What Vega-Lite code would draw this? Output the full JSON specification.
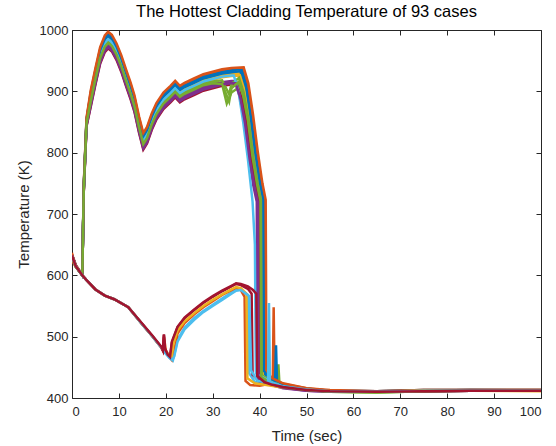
{
"$schema": "https://vega.github.io/schema/vega-lite/v6.json",
"width": 469, "height": 368,
"autosize": {"type": "none"},
"padding": {"left": 72, "top": 30, "right": 15, "bottom": 48},
"background": "white",
"title": {"text": "The Hottest Cladding Temperature of 93 cases", "fontSize": 16.5, "fontWeight": "normal", "font": "Liberation Sans", "color": "#000000", "offset": 4},
"config": {"view": {"stroke": null}, "axis": {"grid": false, "domainColor": "#262626", "tickColor": "#262626", "labelColor": "#262626", "titleColor": "#262626", "labelFont": "Liberation Sans", "titleFont": "Liberation Sans", "labelFontSize": 13, "titleFontSize": 15, "titleFontWeight": "normal", "tickSize": -5, "domainWidth": 1}},
"data": {"values": [
{"c":1,"t":0,"v":633},{"c":1,"t":0.8,"v":616},{"c":1,"t":2.2,"v":600},{"c":1,"t":2.5,"v":742},{"c":1,"t":3.1,"v":852},{"c":1,"t":4,"v":893},{"c":1,"t":5,"v":929},{"c":1,"t":6,"v":963},{"c":1,"t":7,"v":982},{"c":1,"t":7.7,"v":988},{"c":1,"t":8.5,"v":983},{"c":1,"t":9.5,"v":969},{"c":1,"t":10.5,"v":950},{"c":1,"t":11.5,"v":927},{"c":1,"t":12.5,"v":905},{"c":1,"t":13.3,"v":885},{"c":1,"t":14.3,"v":850},{"c":1,"t":15.2,"v":823},{"c":1,"t":16,"v":833},{"c":1,"t":17,"v":855},{"c":1,"t":18,"v":872},{"c":1,"t":19.5,"v":889},{"c":1,"t":21,"v":900},{"c":1,"t":22,"v":908},{"c":1,"t":23,"v":900},{"c":1,"t":24,"v":905},{"c":1,"t":26,"v":912},{"c":1,"t":28,"v":919},{"c":1,"t":30,"v":923},{"c":1,"t":32,"v":927},{"c":1,"t":34,"v":929},{"c":1,"t":35.7,"v":930},{"c":1,"t":36.7,"v":905},{"c":1,"t":37.7,"v":857},{"c":1,"t":38.7,"v":797},{"c":1,"t":39.7,"v":748},{"c":1,"t":40.4,"v":722},{"c":1,"t":40.55,"v":440},{"c":1,"t":42.5,"v":428},{"c":1,"t":45,"v":420},{"c":1,"t":50,"v":414},{"c":1,"t":55,"v":411},{"c":1,"t":65,"v":410},{"c":1,"t":75,"v":412},{"c":1,"t":85,"v":412},{"c":1,"t":100,"v":412},
{"c":2,"t":0,"v":634},{"c":2,"t":0.8,"v":616},{"c":2,"t":2.2,"v":600},{"c":2,"t":2.5,"v":745},{"c":2,"t":3.1,"v":855},{"c":2,"t":4,"v":899},{"c":2,"t":5,"v":935},{"c":2,"t":6,"v":969},{"c":2,"t":7,"v":988},{"c":2,"t":7.7,"v":994},{"c":2,"t":8.5,"v":989},{"c":2,"t":9.5,"v":975},{"c":2,"t":10.5,"v":956},{"c":2,"t":11.5,"v":933},{"c":2,"t":12.5,"v":911},{"c":2,"t":13.3,"v":891},{"c":2,"t":14.3,"v":856},{"c":2,"t":15.2,"v":829},{"c":2,"t":16,"v":839},{"c":2,"t":17,"v":861},{"c":2,"t":18,"v":878},{"c":2,"t":19.5,"v":895},{"c":2,"t":21,"v":906},{"c":2,"t":22,"v":914},{"c":2,"t":23,"v":906},{"c":2,"t":24,"v":911},{"c":2,"t":26,"v":918},{"c":2,"t":28,"v":925},{"c":2,"t":30,"v":929},{"c":2,"t":32,"v":933},{"c":2,"t":34,"v":935},{"c":2,"t":36.3,"v":936},{"c":2,"t":37.3,"v":911},{"c":2,"t":38.3,"v":860},{"c":2,"t":39.3,"v":800},{"c":2,"t":40.3,"v":748},{"c":2,"t":41,"v":722},{"c":2,"t":41.15,"v":445},{"c":2,"t":42.5,"v":432},{"c":2,"t":45,"v":423},{"c":2,"t":50,"v":416},{"c":2,"t":55,"v":412},{"c":2,"t":65,"v":411},{"c":2,"t":75,"v":413},{"c":2,"t":85,"v":413},{"c":2,"t":100,"v":413},
{"c":3,"t":0,"v":631},{"c":3,"t":0.8,"v":615},{"c":3,"t":2.2,"v":600},{"c":3,"t":2.5,"v":738},{"c":3,"t":3.1,"v":851},{"c":3,"t":4,"v":892},{"c":3,"t":5,"v":928},{"c":3,"t":6,"v":962},{"c":3,"t":7,"v":981},{"c":3,"t":7.7,"v":987},{"c":3,"t":8.5,"v":982},{"c":3,"t":9.5,"v":968},{"c":3,"t":10.5,"v":949},{"c":3,"t":11.5,"v":926},{"c":3,"t":12.5,"v":904},{"c":3,"t":13.3,"v":884},{"c":3,"t":14.3,"v":849},{"c":3,"t":15.2,"v":822},{"c":3,"t":16,"v":832},{"c":3,"t":17,"v":854},{"c":3,"t":18,"v":871},{"c":3,"t":19.5,"v":888},{"c":3,"t":21,"v":899},{"c":3,"t":22,"v":907},{"c":3,"t":23,"v":899},{"c":3,"t":24,"v":904},{"c":3,"t":26,"v":911},{"c":3,"t":28,"v":918},{"c":3,"t":30,"v":922},{"c":3,"t":32,"v":926},{"c":3,"t":34,"v":928},{"c":3,"t":35.5,"v":929},{"c":3,"t":36.5,"v":903},{"c":3,"t":37.5,"v":857},{"c":3,"t":38.5,"v":797},{"c":3,"t":39.5,"v":748},{"c":3,"t":40.2,"v":722},{"c":3,"t":40.35,"v":438},{"c":3,"t":42.5,"v":426},{"c":3,"t":45,"v":419},{"c":3,"t":50,"v":414},{"c":3,"t":55,"v":411},{"c":3,"t":65,"v":410},{"c":3,"t":75,"v":412},{"c":3,"t":85,"v":412},{"c":3,"t":100,"v":411},
{"c":4,"t":0,"v":632},{"c":4,"t":0.8,"v":615},{"c":4,"t":2.2,"v":600},{"c":4,"t":2.5,"v":736},{"c":4,"t":3.1,"v":846},{"c":4,"t":4,"v":879},{"c":4,"t":5,"v":915},{"c":4,"t":6,"v":949},{"c":4,"t":7,"v":968},{"c":4,"t":7.7,"v":974},{"c":4,"t":8.5,"v":969},{"c":4,"t":9.5,"v":955},{"c":4,"t":10.5,"v":936},{"c":4,"t":11.5,"v":913},{"c":4,"t":12.5,"v":891},{"c":4,"t":13.3,"v":871},{"c":4,"t":14.3,"v":836},{"c":4,"t":15.2,"v":809},{"c":4,"t":16,"v":819},{"c":4,"t":17,"v":841},{"c":4,"t":18,"v":858},{"c":4,"t":19.5,"v":875},{"c":4,"t":21,"v":886},{"c":4,"t":22,"v":894},{"c":4,"t":23,"v":886},{"c":4,"t":24,"v":891},{"c":4,"t":26,"v":898},{"c":4,"t":28,"v":905},{"c":4,"t":30,"v":909},{"c":4,"t":32,"v":913},{"c":4,"t":34,"v":915},{"c":4,"t":35,"v":916},{"c":4,"t":36,"v":892},{"c":4,"t":37,"v":851},{"c":4,"t":38,"v":791},{"c":4,"t":39,"v":748},{"c":4,"t":39.7,"v":722},{"c":4,"t":39.85,"v":435},{"c":4,"t":42.5,"v":424},{"c":4,"t":45,"v":418},{"c":4,"t":50,"v":413},{"c":4,"t":55,"v":411},{"c":4,"t":65,"v":410},{"c":4,"t":75,"v":411},{"c":4,"t":85,"v":412},{"c":4,"t":100,"v":412},
{"c":5,"t":0,"v":630},{"c":5,"t":0.8,"v":614},{"c":5,"t":2.2,"v":600},{"c":5,"t":2.5,"v":740},{"c":5,"t":3.1,"v":849},{"c":5,"t":4,"v":886},{"c":5,"t":5,"v":922},{"c":5,"t":6,"v":956},{"c":5,"t":7,"v":975},{"c":5,"t":7.7,"v":981},{"c":5,"t":8.5,"v":976},{"c":5,"t":9.5,"v":962},{"c":5,"t":10.5,"v":943},{"c":5,"t":11.5,"v":920},{"c":5,"t":12.5,"v":898},{"c":5,"t":13.3,"v":878},{"c":5,"t":14.3,"v":843},{"c":5,"t":15.2,"v":816},{"c":5,"t":16,"v":826},{"c":5,"t":17,"v":848},{"c":5,"t":18,"v":865},{"c":5,"t":19.5,"v":882},{"c":5,"t":21,"v":893},{"c":5,"t":22,"v":901},{"c":5,"t":23,"v":893},{"c":5,"t":24,"v":898},{"c":5,"t":26,"v":905},{"c":5,"t":28,"v":912},{"c":5,"t":30,"v":914},{"c":5,"t":32,"v":912},{"c":5,"t":33,"v":880},{"c":5,"t":34,"v":898},{"c":5,"t":35.3,"v":905},{"c":5,"t":36.3,"v":890},{"c":5,"t":37.3,"v":854},{"c":5,"t":38.3,"v":794},{"c":5,"t":39.3,"v":748},{"c":5,"t":40,"v":722},{"c":5,"t":40.15,"v":432},{"c":5,"t":42.5,"v":425},{"c":5,"t":45,"v":420},{"c":5,"t":50,"v":414},{"c":5,"t":55,"v":410},{"c":5,"t":65,"v":409},{"c":5,"t":75,"v":411},{"c":5,"t":85,"v":412},{"c":5,"t":100,"v":412},
{"c":6,"t":0,"v":631},{"c":6,"t":0.8,"v":615},{"c":6,"t":2.2,"v":600},{"c":6,"t":3,"v":593},{"c":6,"t":5,"v":577},{"c":6,"t":7,"v":567},{"c":6,"t":9,"v":561},{"c":6,"t":12,"v":548},{"c":6,"t":15,"v":520},{"c":6,"t":17,"v":502},{"c":6,"t":19,"v":483},{"c":6,"t":20,"v":472},{"c":6,"t":20.8,"v":465},{"c":6,"t":21.5,"v":461},{"c":6,"t":21.8,"v":470},{"c":6,"t":22.5,"v":495},{"c":6,"t":24,"v":515},{"c":6,"t":26,"v":530},{"c":6,"t":28,"v":542},{"c":6,"t":30,"v":552},{"c":6,"t":32,"v":562},{"c":6,"t":34,"v":572},{"c":6,"t":35,"v":577},{"c":6,"t":36,"v":577},{"c":6,"t":37.5,"v":568},{"c":6,"t":37.8,"v":440},{"c":6,"t":39,"v":426},{"c":6,"t":42.5,"v":421},{"c":6,"t":45,"v":418},{"c":6,"t":50,"v":413},{"c":6,"t":55,"v":411},{"c":6,"t":65,"v":410},{"c":6,"t":75,"v":412},{"c":6,"t":85,"v":412},{"c":6,"t":100,"v":412},
{"c":7,"t":0,"v":632},{"c":7,"t":0.8,"v":615},{"c":7,"t":2.2,"v":600},{"c":7,"t":2.5,"v":735},{"c":7,"t":3.1,"v":843},{"c":7,"t":4,"v":875},{"c":7,"t":5,"v":911},{"c":7,"t":6,"v":945},{"c":7,"t":7,"v":964},{"c":7,"t":7.7,"v":970},{"c":7,"t":8.5,"v":965},{"c":7,"t":9.5,"v":951},{"c":7,"t":10.5,"v":932},{"c":7,"t":11.5,"v":909},{"c":7,"t":12.5,"v":887},{"c":7,"t":13.3,"v":867},{"c":7,"t":14.3,"v":832},{"c":7,"t":15.2,"v":805},{"c":7,"t":16,"v":815},{"c":7,"t":17,"v":837},{"c":7,"t":18,"v":854},{"c":7,"t":19.5,"v":871},{"c":7,"t":21,"v":882},{"c":7,"t":22,"v":890},{"c":7,"t":23,"v":882},{"c":7,"t":24,"v":887},{"c":7,"t":26,"v":894},{"c":7,"t":28,"v":901},{"c":7,"t":30,"v":905},{"c":7,"t":32,"v":909},{"c":7,"t":34,"v":911},{"c":7,"t":35.2,"v":912},{"c":7,"t":36.2,"v":888},{"c":7,"t":37.2,"v":849},{"c":7,"t":38.2,"v":789},{"c":7,"t":39.2,"v":746},{"c":7,"t":39.9,"v":720},{"c":7,"t":40.05,"v":430},{"c":7,"t":42.5,"v":422},{"c":7,"t":45,"v":417},{"c":7,"t":50,"v":413},{"c":7,"t":55,"v":411},{"c":7,"t":65,"v":410},{"c":7,"t":75,"v":412},{"c":7,"t":85,"v":412},{"c":7,"t":100,"v":412},
{"c":8,"t":0,"v":633},{"c":8,"t":0.8,"v":616},{"c":8,"t":2.2,"v":600},{"c":8,"t":2.5,"v":741},{"c":8,"t":3.1,"v":853},{"c":8,"t":4,"v":895},{"c":8,"t":5,"v":931},{"c":8,"t":6,"v":965},{"c":8,"t":7,"v":984},{"c":8,"t":7.7,"v":990},{"c":8,"t":8.5,"v":985},{"c":8,"t":9.5,"v":971},{"c":8,"t":10.5,"v":952},{"c":8,"t":11.5,"v":929},{"c":8,"t":12.5,"v":907},{"c":8,"t":13.3,"v":887},{"c":8,"t":14.3,"v":852},{"c":8,"t":15.2,"v":825},{"c":8,"t":16,"v":835},{"c":8,"t":17,"v":857},{"c":8,"t":18,"v":874},{"c":8,"t":19.5,"v":891},{"c":8,"t":21,"v":902},{"c":8,"t":22,"v":910},{"c":8,"t":23,"v":902},{"c":8,"t":24,"v":907},{"c":8,"t":26,"v":914},{"c":8,"t":28,"v":921},{"c":8,"t":30,"v":925},{"c":8,"t":32,"v":929},{"c":8,"t":34,"v":931},{"c":8,"t":36,"v":933},{"c":8,"t":37,"v":908},{"c":8,"t":38,"v":858},{"c":8,"t":39,"v":798},{"c":8,"t":40,"v":750},{"c":8,"t":40.7,"v":724},{"c":8,"t":40.85,"v":442},{"c":8,"t":42.5,"v":430},{"c":8,"t":45,"v":421},{"c":8,"t":50,"v":415},{"c":8,"t":55,"v":412},{"c":8,"t":65,"v":411},{"c":8,"t":75,"v":412},{"c":8,"t":85,"v":413},{"c":8,"t":100,"v":412},
{"c":9,"t":0,"v":637},{"c":9,"t":0.3,"v":620},{"c":9,"t":0.8,"v":614},{"c":9,"t":2.2,"v":600},{"c":9,"t":3,"v":593},{"c":9,"t":5,"v":577},{"c":9,"t":7,"v":567},{"c":9,"t":9,"v":561},{"c":9,"t":12,"v":548},{"c":9,"t":15,"v":520},{"c":9,"t":17,"v":502},{"c":9,"t":19,"v":483},{"c":9,"t":19.4,"v":477},{"c":9,"t":19.6,"v":500},{"c":9,"t":20,"v":478},{"c":9,"t":20.8,"v":467},{"c":9,"t":21.3,"v":462},{"c":9,"t":21.7,"v":472},{"c":9,"t":22.5,"v":505},{"c":9,"t":24,"v":522},{"c":9,"t":26,"v":536},{"c":9,"t":28,"v":548},{"c":9,"t":30,"v":558},{"c":9,"t":32,"v":568},{"c":9,"t":34,"v":576},{"c":9,"t":35,"v":580},{"c":9,"t":36,"v":576},{"c":9,"t":36.8,"v":565},{"c":9,"t":37,"v":428},{"c":9,"t":38,"v":421},{"c":9,"t":40,"v":420},{"c":9,"t":42.8,"v":424},{"c":9,"t":43,"v":548},{"c":9,"t":43.2,"v":424},{"c":9,"t":45,"v":419},{"c":9,"t":50,"v":414},{"c":9,"t":55,"v":411},{"c":9,"t":65,"v":410},{"c":9,"t":75,"v":412},{"c":9,"t":85,"v":413},{"c":9,"t":100,"v":413},
{"c":10,"t":0,"v":631},{"c":10,"t":0.8,"v":615},{"c":10,"t":2.2,"v":600},{"c":10,"t":2.5,"v":739},{"c":10,"t":3.1,"v":850},{"c":10,"t":4,"v":889},{"c":10,"t":5,"v":925},{"c":10,"t":6,"v":959},{"c":10,"t":7,"v":978},{"c":10,"t":7.7,"v":984},{"c":10,"t":8.5,"v":979},{"c":10,"t":9.5,"v":965},{"c":10,"t":10.5,"v":946},{"c":10,"t":11.5,"v":923},{"c":10,"t":12.5,"v":901},{"c":10,"t":13.3,"v":881},{"c":10,"t":14.3,"v":846},{"c":10,"t":15.2,"v":819},{"c":10,"t":16,"v":829},{"c":10,"t":17,"v":851},{"c":10,"t":18,"v":868},{"c":10,"t":19.5,"v":885},{"c":10,"t":21,"v":896},{"c":10,"t":22,"v":904},{"c":10,"t":23,"v":896},{"c":10,"t":24,"v":901},{"c":10,"t":26,"v":908},{"c":10,"t":28,"v":915},{"c":10,"t":30,"v":919},{"c":10,"t":32,"v":923},{"c":10,"t":34,"v":925},{"c":10,"t":35.8,"v":926},{"c":10,"t":36.8,"v":901},{"c":10,"t":37.8,"v":855},{"c":10,"t":38.8,"v":795},{"c":10,"t":39.8,"v":748},{"c":10,"t":40.5,"v":721},{"c":10,"t":40.65,"v":436},{"c":10,"t":42.5,"v":427},{"c":10,"t":45,"v":421},{"c":10,"t":50,"v":415},{"c":10,"t":55,"v":411},{"c":10,"t":65,"v":410},{"c":10,"t":75,"v":412},{"c":10,"t":85,"v":412},{"c":10,"t":100,"v":412},
{"c":11,"t":0,"v":632},{"c":11,"t":0.8,"v":615},{"c":11,"t":2.2,"v":600},{"c":11,"t":2.5,"v":737},{"c":11,"t":3.1,"v":847},{"c":11,"t":4,"v":881},{"c":11,"t":5,"v":917},{"c":11,"t":6,"v":951},{"c":11,"t":7,"v":970},{"c":11,"t":7.7,"v":976},{"c":11,"t":8.5,"v":971},{"c":11,"t":9.5,"v":957},{"c":11,"t":10.5,"v":938},{"c":11,"t":11.5,"v":915},{"c":11,"t":12.5,"v":893},{"c":11,"t":13.3,"v":873},{"c":11,"t":14.3,"v":838},{"c":11,"t":15.2,"v":811},{"c":11,"t":16,"v":821},{"c":11,"t":17,"v":843},{"c":11,"t":18,"v":860},{"c":11,"t":19.5,"v":877},{"c":11,"t":21,"v":888},{"c":11,"t":22,"v":896},{"c":11,"t":23,"v":888},{"c":11,"t":24,"v":893},{"c":11,"t":26,"v":900},{"c":11,"t":28,"v":907},{"c":11,"t":30,"v":911},{"c":11,"t":32,"v":915},{"c":11,"t":34,"v":917},{"c":11,"t":34.7,"v":917},{"c":11,"t":35.7,"v":893},{"c":11,"t":36.7,"v":852},{"c":11,"t":37.7,"v":792},{"c":11,"t":38.7,"v":745},{"c":11,"t":39.4,"v":720},{"c":11,"t":39.55,"v":428},{"c":11,"t":42.5,"v":421},{"c":11,"t":45,"v":416},{"c":11,"t":50,"v":412},{"c":11,"t":55,"v":410},{"c":11,"t":65,"v":410},{"c":11,"t":75,"v":411},{"c":11,"t":85,"v":412},{"c":11,"t":100,"v":412},
{"c":12,"t":0,"v":630},{"c":12,"t":0.8,"v":614},{"c":12,"t":2.2,"v":600},{"c":12,"t":2.5,"v":739},{"c":12,"t":3.1,"v":850},{"c":12,"t":4,"v":888},{"c":12,"t":5,"v":924},{"c":12,"t":6,"v":958},{"c":12,"t":7,"v":977},{"c":12,"t":7.7,"v":983},{"c":12,"t":8.5,"v":978},{"c":12,"t":9.5,"v":964},{"c":12,"t":10.5,"v":945},{"c":12,"t":11.5,"v":922},{"c":12,"t":12.5,"v":900},{"c":12,"t":13.3,"v":880},{"c":12,"t":14.3,"v":845},{"c":12,"t":15.2,"v":818},{"c":12,"t":16,"v":828},{"c":12,"t":17,"v":850},{"c":12,"t":18,"v":867},{"c":12,"t":19.5,"v":884},{"c":12,"t":21,"v":895},{"c":12,"t":22,"v":903},{"c":12,"t":23,"v":895},{"c":12,"t":24,"v":900},{"c":12,"t":26,"v":907},{"c":12,"t":28,"v":914},{"c":12,"t":30,"v":916},{"c":12,"t":32,"v":918},{"c":12,"t":33.5,"v":895},{"c":12,"t":34,"v":912},{"c":12,"t":35.6,"v":922},{"c":12,"t":36.6,"v":898},{"c":12,"t":37.6,"v":855},{"c":12,"t":38.6,"v":795},{"c":12,"t":39.6,"v":748},{"c":12,"t":40.3,"v":722},{"c":12,"t":40.45,"v":437},{"c":12,"t":42.5,"v":428},{"c":12,"t":43.8,"v":426},{"c":12,"t":44,"v":455},{"c":12,"t":44.2,"v":427},{"c":12,"t":45,"v":421},{"c":12,"t":50,"v":414},{"c":12,"t":55,"v":411},{"c":12,"t":65,"v":410},{"c":12,"t":75,"v":412},{"c":12,"t":85,"v":412},{"c":12,"t":100,"v":412},
{"c":13,"t":0,"v":631},{"c":13,"t":0.8,"v":615},{"c":13,"t":2.2,"v":600},{"c":13,"t":2.5,"v":740},{"c":13,"t":3.1,"v":851},{"c":13,"t":4,"v":890},{"c":13,"t":5,"v":926},{"c":13,"t":6,"v":960},{"c":13,"t":7,"v":979},{"c":13,"t":7.7,"v":985},{"c":13,"t":8.5,"v":980},{"c":13,"t":9.5,"v":966},{"c":13,"t":10.5,"v":947},{"c":13,"t":11.5,"v":924},{"c":13,"t":12.5,"v":902},{"c":13,"t":13.3,"v":882},{"c":13,"t":14.3,"v":847},{"c":13,"t":15.2,"v":820},{"c":13,"t":16,"v":830},{"c":13,"t":17,"v":852},{"c":13,"t":18,"v":869},{"c":13,"t":19.5,"v":886},{"c":13,"t":21,"v":897},{"c":13,"t":22,"v":905},{"c":13,"t":23,"v":897},{"c":13,"t":24,"v":902},{"c":13,"t":26,"v":909},{"c":13,"t":28,"v":916},{"c":13,"t":30,"v":920},{"c":13,"t":32,"v":924},{"c":13,"t":34,"v":926},{"c":13,"t":34.5,"v":926},{"c":13,"t":35.5,"v":900},{"c":13,"t":36.5,"v":850},{"c":13,"t":37.5,"v":790},{"c":13,"t":38.5,"v":720},{"c":13,"t":39,"v":650},{"c":13,"t":39.2,"v":440},{"c":13,"t":42.5,"v":426},{"c":13,"t":45,"v":419},{"c":13,"t":50,"v":413},{"c":13,"t":55,"v":411},{"c":13,"t":65,"v":410},{"c":13,"t":75,"v":412},{"c":13,"t":85,"v":412},{"c":13,"t":100,"v":412},
{"c":14,"t":0,"v":632},{"c":14,"t":0.8,"v":615},{"c":14,"t":2.2,"v":600},{"c":14,"t":3,"v":593},{"c":14,"t":5,"v":577},{"c":14,"t":7,"v":567},{"c":14,"t":9,"v":561},{"c":14,"t":12,"v":548},{"c":14,"t":15,"v":520},{"c":14,"t":17,"v":502},{"c":14,"t":19,"v":483},{"c":14,"t":19.4,"v":477},{"c":14,"t":19.6,"v":503},{"c":14,"t":19.8,"v":480},{"c":14,"t":20.4,"v":470},{"c":14,"t":20.9,"v":466},{"c":14,"t":21.3,"v":490},{"c":14,"t":22.5,"v":515},{"c":14,"t":24,"v":530},{"c":14,"t":26,"v":543},{"c":14,"t":28,"v":555},{"c":14,"t":30,"v":565},{"c":14,"t":32,"v":574},{"c":14,"t":34,"v":582},{"c":14,"t":35,"v":586},{"c":14,"t":36,"v":584},{"c":14,"t":37.5,"v":578},{"c":14,"t":38.3,"v":570},{"c":14,"t":38.5,"v":438},{"c":14,"t":40,"v":427},{"c":14,"t":42.5,"v":422},{"c":14,"t":45,"v":418},{"c":14,"t":50,"v":413},{"c":14,"t":55,"v":411},{"c":14,"t":65,"v":410},{"c":14,"t":75,"v":411},{"c":14,"t":85,"v":412},{"c":14,"t":100,"v":412},
{"c":15,"t":0,"v":633},{"c":15,"t":0.8,"v":616},{"c":15,"t":2.2,"v":600},{"c":15,"t":2.5,"v":743},{"c":15,"t":3.1,"v":854},{"c":15,"t":4,"v":897},{"c":15,"t":5,"v":933},{"c":15,"t":6,"v":967},{"c":15,"t":7,"v":986},{"c":15,"t":7.7,"v":992},{"c":15,"t":8.5,"v":987},{"c":15,"t":9.5,"v":973},{"c":15,"t":10.5,"v":954},{"c":15,"t":11.5,"v":931},{"c":15,"t":12.5,"v":909},{"c":15,"t":13.3,"v":889},{"c":15,"t":14.3,"v":854},{"c":15,"t":15.2,"v":827},{"c":15,"t":16,"v":837},{"c":15,"t":17,"v":859},{"c":15,"t":18,"v":876},{"c":15,"t":19.5,"v":893},{"c":15,"t":21,"v":904},{"c":15,"t":22,"v":912},{"c":15,"t":23,"v":904},{"c":15,"t":24,"v":909},{"c":15,"t":26,"v":916},{"c":15,"t":28,"v":923},{"c":15,"t":30,"v":927},{"c":15,"t":32,"v":931},{"c":15,"t":34,"v":934},{"c":15,"t":36.1,"v":937},{"c":15,"t":37.1,"v":910},{"c":15,"t":38.1,"v":859},{"c":15,"t":39.1,"v":799},{"c":15,"t":40.1,"v":750},{"c":15,"t":40.8,"v":724},{"c":15,"t":40.95,"v":444},{"c":15,"t":42.5,"v":431},{"c":15,"t":43.3,"v":428},{"c":15,"t":43.5,"v":486},{"c":15,"t":43.7,"v":428},{"c":15,"t":45,"v":422},{"c":15,"t":50,"v":415},{"c":15,"t":55,"v":412},{"c":15,"t":65,"v":411},{"c":15,"t":75,"v":413},{"c":15,"t":85,"v":413},{"c":15,"t":100,"v":413},
{"c":16,"t":0,"v":634},{"c":16,"t":0.8,"v":617},{"c":16,"t":2.2,"v":601},{"c":16,"t":2.5,"v":746},{"c":16,"t":3.1,"v":857},{"c":16,"t":4,"v":902},{"c":16,"t":5,"v":938},{"c":16,"t":6,"v":972},{"c":16,"t":7,"v":991},{"c":16,"t":7.7,"v":997},{"c":16,"t":8.5,"v":992},{"c":16,"t":9.5,"v":978},{"c":16,"t":10.5,"v":959},{"c":16,"t":11.5,"v":936},{"c":16,"t":12.5,"v":914},{"c":16,"t":13.3,"v":894},{"c":16,"t":14.3,"v":859},{"c":16,"t":15.2,"v":832},{"c":16,"t":16,"v":842},{"c":16,"t":17,"v":864},{"c":16,"t":18,"v":881},{"c":16,"t":19.5,"v":898},{"c":16,"t":21,"v":909},{"c":16,"t":22,"v":917},{"c":16,"t":23,"v":909},{"c":16,"t":24,"v":914},{"c":16,"t":26,"v":921},{"c":16,"t":28,"v":928},{"c":16,"t":30,"v":932},{"c":16,"t":32,"v":936},{"c":16,"t":34,"v":938},{"c":16,"t":36.6,"v":939},{"c":16,"t":37.6,"v":913},{"c":16,"t":38.6,"v":862},{"c":16,"t":39.6,"v":802},{"c":16,"t":40.6,"v":750},{"c":16,"t":41.3,"v":723},{"c":16,"t":41.45,"v":446},{"c":16,"t":42.5,"v":433},{"c":16,"t":45,"v":424},{"c":16,"t":50,"v":416},{"c":16,"t":55,"v":413},{"c":16,"t":65,"v":411},{"c":16,"t":75,"v":413},{"c":16,"t":85,"v":413},{"c":16,"t":100,"v":413},
{"c":17,"t":0,"v":631},{"c":17,"t":0.8,"v":615},{"c":17,"t":2.2,"v":600},{"c":17,"t":3,"v":593},{"c":17,"t":5,"v":577},{"c":17,"t":7,"v":567},{"c":17,"t":9,"v":561},{"c":17,"t":12,"v":548},{"c":17,"t":15,"v":520},{"c":17,"t":17,"v":502},{"c":17,"t":19,"v":483},{"c":17,"t":20,"v":476},{"c":17,"t":20.8,"v":467},{"c":17,"t":21.2,"v":464},{"c":17,"t":21.6,"v":488},{"c":17,"t":22.5,"v":510},{"c":17,"t":24,"v":525},{"c":17,"t":26,"v":538},{"c":17,"t":28,"v":550},{"c":17,"t":30,"v":560},{"c":17,"t":32,"v":569},{"c":17,"t":34,"v":577},{"c":17,"t":35,"v":581},{"c":17,"t":36,"v":579},{"c":17,"t":37.2,"v":570},{"c":17,"t":37.4,"v":432},{"c":17,"t":39,"v":424},{"c":17,"t":42.5,"v":420},{"c":17,"t":45,"v":417},{"c":17,"t":50,"v":413},{"c":17,"t":55,"v":411},{"c":17,"t":65,"v":410},{"c":17,"t":75,"v":412},{"c":17,"t":85,"v":412},{"c":17,"t":100,"v":412},
{"c":18,"t":0,"v":632},{"c":18,"t":0.8,"v":615},{"c":18,"t":2.2,"v":600},{"c":18,"t":2.5,"v":736},{"c":18,"t":3.1,"v":844},{"c":18,"t":4,"v":877},{"c":18,"t":5,"v":913},{"c":18,"t":6,"v":947},{"c":18,"t":7,"v":966},{"c":18,"t":7.7,"v":972},{"c":18,"t":8.5,"v":967},{"c":18,"t":9.5,"v":953},{"c":18,"t":10.5,"v":934},{"c":18,"t":11.5,"v":911},{"c":18,"t":12.5,"v":889},{"c":18,"t":13.3,"v":869},{"c":18,"t":14.3,"v":834},{"c":18,"t":15.2,"v":807},{"c":18,"t":16,"v":817},{"c":18,"t":17,"v":839},{"c":18,"t":18,"v":856},{"c":18,"t":19.5,"v":873},{"c":18,"t":21,"v":884},{"c":18,"t":22,"v":892},{"c":18,"t":23,"v":884},{"c":18,"t":24,"v":889},{"c":18,"t":26,"v":896},{"c":18,"t":28,"v":903},{"c":18,"t":30,"v":907},{"c":18,"t":32,"v":911},{"c":18,"t":34,"v":913},{"c":18,"t":34.9,"v":913},{"c":18,"t":35.9,"v":889},{"c":18,"t":36.9,"v":848},{"c":18,"t":37.9,"v":788},{"c":18,"t":38.9,"v":745},{"c":18,"t":39.6,"v":720},{"c":18,"t":39.75,"v":432},{"c":18,"t":42.5,"v":423},{"c":18,"t":45,"v":417},{"c":18,"t":50,"v":412},{"c":18,"t":55,"v":410},{"c":18,"t":65,"v":410},{"c":18,"t":75,"v":411},{"c":18,"t":85,"v":412},{"c":18,"t":100,"v":412},
{"c":19,"t":0,"v":630},{"c":19,"t":0.8,"v":614},{"c":19,"t":2.2,"v":600},{"c":19,"t":2.5,"v":738},{"c":19,"t":3.1,"v":848},{"c":19,"t":4,"v":884},{"c":19,"t":5,"v":920},{"c":19,"t":6,"v":954},{"c":19,"t":7,"v":973},{"c":19,"t":7.7,"v":979},{"c":19,"t":8.5,"v":974},{"c":19,"t":9.5,"v":960},{"c":19,"t":10.5,"v":941},{"c":19,"t":11.5,"v":918},{"c":19,"t":12.5,"v":896},{"c":19,"t":13.3,"v":876},{"c":19,"t":14.3,"v":841},{"c":19,"t":15.2,"v":814},{"c":19,"t":16,"v":824},{"c":19,"t":17,"v":846},{"c":19,"t":18,"v":863},{"c":19,"t":19.5,"v":880},{"c":19,"t":21,"v":891},{"c":19,"t":22,"v":899},{"c":19,"t":23,"v":891},{"c":19,"t":24,"v":896},{"c":19,"t":26,"v":903},{"c":19,"t":28,"v":910},{"c":19,"t":30,"v":913},{"c":19,"t":32,"v":912},{"c":19,"t":33.5,"v":883},{"c":19,"t":34,"v":905},{"c":19,"t":35.5,"v":915},{"c":19,"t":36.5,"v":893},{"c":19,"t":37.5,"v":853},{"c":19,"t":38.5,"v":793},{"c":19,"t":39.5,"v":747},{"c":19,"t":40.2,"v":721},{"c":19,"t":40.35,"v":434},{"c":19,"t":42.5,"v":424},{"c":19,"t":45,"v":418},{"c":19,"t":50,"v":413},{"c":19,"t":55,"v":410},{"c":19,"t":65,"v":409},{"c":19,"t":75,"v":411},{"c":19,"t":85,"v":412},{"c":19,"t":100,"v":412},
{"c":20,"t":0,"v":631},{"c":20,"t":0.8,"v":615},{"c":20,"t":2.2,"v":600},{"c":20,"t":3,"v":593},{"c":20,"t":5,"v":577},{"c":20,"t":7,"v":567},{"c":20,"t":9,"v":561},{"c":20,"t":12,"v":548},{"c":20,"t":15,"v":520},{"c":20,"t":17,"v":502},{"c":20,"t":19,"v":483},{"c":20,"t":20,"v":473},{"c":20,"t":20.8,"v":466},{"c":20,"t":21.4,"v":462},{"c":20,"t":21.8,"v":468},{"c":20,"t":22.5,"v":492},{"c":20,"t":24,"v":512},{"c":20,"t":26,"v":527},{"c":20,"t":28,"v":540},{"c":20,"t":30,"v":550},{"c":20,"t":32,"v":560},{"c":20,"t":34,"v":570},{"c":20,"t":35,"v":575},{"c":20,"t":36,"v":576},{"c":20,"t":37.8,"v":566},{"c":20,"t":38.2,"v":445},{"c":20,"t":39.5,"v":428},{"c":20,"t":41.8,"v":425},{"c":20,"t":42,"v":555},{"c":20,"t":42.2,"v":426},{"c":20,"t":45,"v":419},{"c":20,"t":50,"v":414},{"c":20,"t":55,"v":411},{"c":20,"t":65,"v":410},{"c":20,"t":75,"v":412},{"c":20,"t":85,"v":412},{"c":20,"t":100,"v":412},
{"c":21,"t":0,"v":632},{"c":21,"t":0.8,"v":615},{"c":21,"t":2.2,"v":600},{"c":21,"t":3,"v":593},{"c":21,"t":5,"v":577},{"c":21,"t":7,"v":567},{"c":21,"t":9,"v":561},{"c":21,"t":12,"v":548},{"c":21,"t":15,"v":521},{"c":21,"t":17,"v":503},{"c":21,"t":19,"v":484},{"c":21,"t":19.4,"v":478},{"c":21,"t":19.6,"v":504},{"c":21,"t":19.8,"v":481},{"c":21,"t":20.4,"v":471},{"c":21,"t":20.9,"v":467},{"c":21,"t":21.3,"v":492},{"c":21,"t":22.5,"v":516},{"c":21,"t":24,"v":531},{"c":21,"t":26,"v":544},{"c":21,"t":28,"v":556},{"c":21,"t":30,"v":566},{"c":21,"t":32,"v":575},{"c":21,"t":34,"v":583},{"c":21,"t":35,"v":587},{"c":21,"t":36,"v":586},{"c":21,"t":37.5,"v":582},{"c":21,"t":38.6,"v":576},{"c":21,"t":39.3,"v":570},{"c":21,"t":39.5,"v":436},{"c":21,"t":41,"v":426},{"c":21,"t":42.5,"v":422},{"c":21,"t":45,"v":418},{"c":21,"t":50,"v":413},{"c":21,"t":55,"v":411},{"c":21,"t":65,"v":410},{"c":21,"t":75,"v":411},{"c":21,"t":85,"v":412},{"c":21,"t":100,"v":412}
]},
"layer": [
{"mark": {"type": "line", "strokeWidth": 2.5, "clip": true},
 "encoding": {
  "x": {"field": "t", "type": "quantitative", "scale": {"domain": [0, 100], "nice": false}, "axis": {"orient": "bottom", "values": [0,10,20,30,40,50,60,70,80,90,100], "title": "Time (sec)", "labelPadding": 12, "titlePadding": 10}},
  "y": {"field": "v", "type": "quantitative", "scale": {"domain": [400, 1000], "nice": false, "zero": false}, "axis": {"orient": "left", "values": [400,500,600,700,800,900,1000], "format": "d", "title": "Temperature (K)", "labelPadding": 9, "titlePadding": 8}},
  "color": {"field": "c", "type": "nominal", "scale": {"range": ["#0072BD","#D95319","#EDB120","#7E2F8E","#77AC30","#4DBEEE","#A2142F"]}, "legend": null}
 }},
{"mark": {"type": "line", "strokeOpacity": 0},
 "encoding": {
  "x": {"field": "t", "type": "quantitative", "axis": {"orient": "top", "values": [0,10,20,30,40,50,60,70,80,90,100], "labels": false, "title": null}},
  "y": {"field": "v", "type": "quantitative", "axis": {"orient": "right", "values": [400,500,600,700,800,900,1000], "labels": false, "title": null}},
  "detail": {"field": "c", "type": "nominal"}
 }}
],
"resolve": {"axis": {"x": "independent", "y": "independent"}}
}
